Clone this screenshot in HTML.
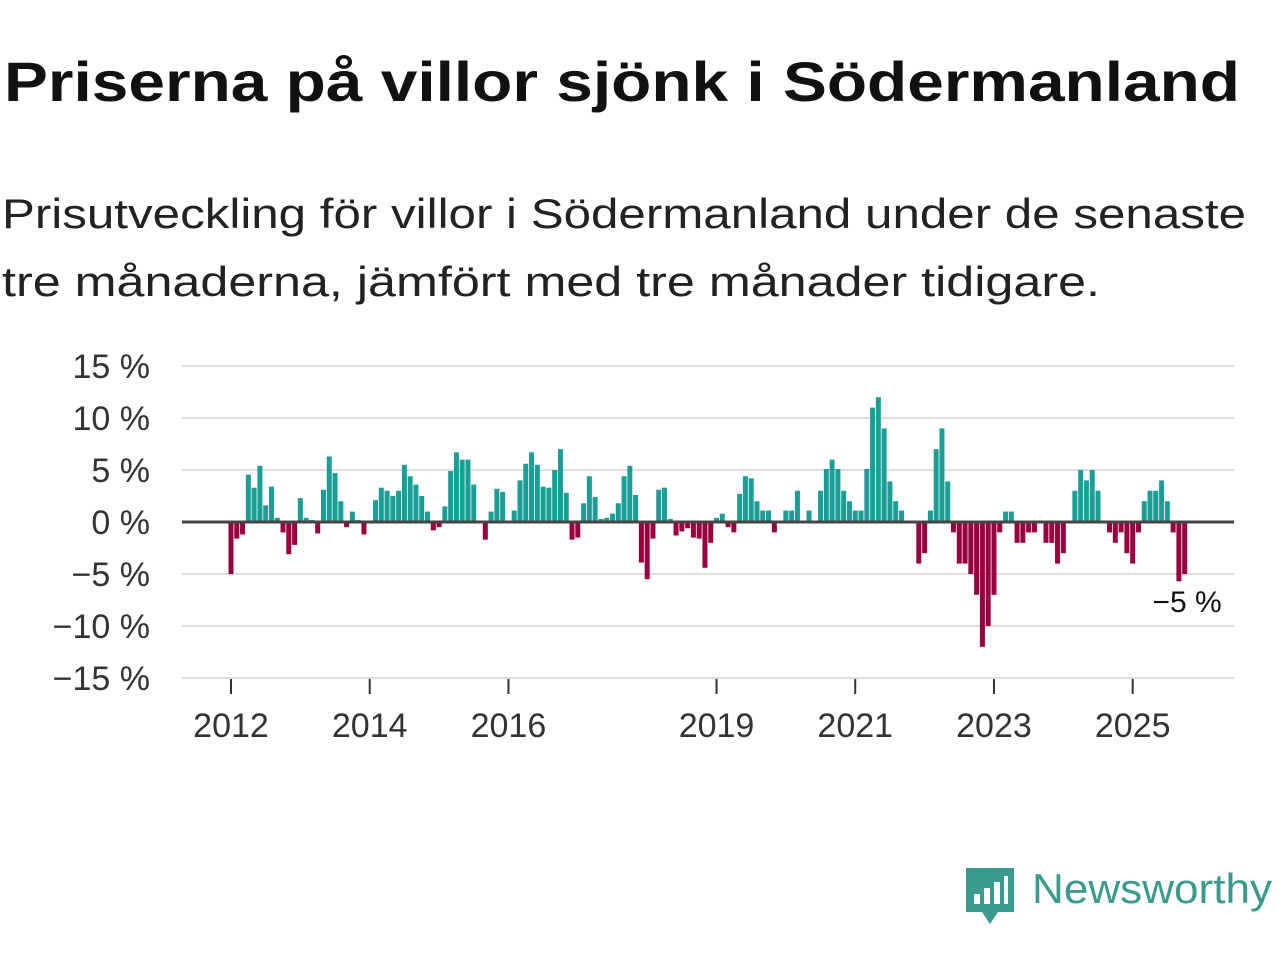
<!DOCTYPE html>
<html><head><meta charset="utf-8"><style>
body{margin:0;background:#fff;width:1280px;height:960px;overflow:hidden;font-family:"Liberation Sans","DejaVu Sans",sans-serif;}
svg{position:absolute;left:0;top:0;}
</style></head><body>
<svg width="1280" height="960">
<text x="4" y="101" font-size="56" font-weight="bold" fill="#111" textLength="1236" lengthAdjust="spacingAndGlyphs" font-family="Liberation Sans, sans-serif">Priserna på villor sjönk i Södermanland</text>
<text x="2" y="228" font-size="42" fill="#222" textLength="1244" lengthAdjust="spacingAndGlyphs" font-family="Liberation Sans, sans-serif">Prisutveckling för villor i Södermanland under de senaste</text>
<text x="2" y="296" font-size="42" fill="#222" textLength="1098" lengthAdjust="spacingAndGlyphs" font-family="Liberation Sans, sans-serif">tre månaderna, jämfört med tre månader tidigare.</text>
</svg>
<svg id="chart" width="1280" height="960"></svg>
<svg width="1280" height="960" style="pointer-events:none">
<path d="M966 868 h48 v44 h-16 l-8 12 l-8 -12 h-16 z" fill="#3a9a8e"/>
<rect x="974" y="894" width="6" height="10" fill="#fff"/><rect x="984" y="888" width="6" height="16" fill="#fff"/><rect x="994" y="882" width="6" height="22" fill="#fff"/><rect x="1004" y="876" width="4" height="28" fill="#fff"/>
<text x="1032" y="903" font-size="42" fill="#3a9a8e" textLength="1240" lengthAdjust="spacingAndGlyphs" font-family="Liberation Sans, sans-serif" id="logotext">Newsworthy</text>
</svg>
<script>
document.getElementById('logotext').setAttribute('textLength','240');
const yTicks=[15,10,5,0,-5,-10,-15];
const yTickLabels=["15 %","10 %","5 %","0 %","\u22125 %","\u221210 %","\u221215 %"];
const xTickYears=[2012,2014,2016,2019,2021,2023,2025];
const startYear=2012;
const values=[
-5.0,-1.6,-1.2,4.55,3.3,5.4,1.6,3.4,0.4,-1.0,-3.1,-2.2,2.3,0.4,0.2,-1.1,3.1,6.3,4.7,2.0,-0.5,1.0,0.2,-1.2,0,2.1,3.3,3.0,2.5,3.0,5.5,4.4,3.6,2.5,1.0,-0.8,-0.5,1.5,4.9,6.7,6.0,6.0,3.6,
0,-1.7,1.0,3.2,2.9,0,1.1,4.0,5.6,6.7,5.5,3.4,3.3,5.0,7.0,2.8,-1.7,-1.5,1.8,4.4,2.4,0.3,0.4,0.8,1.8,4.4,5.4,2.6,-3.9,-5.5,-1.6,3.1,3.3,0.3,-1.3,-0.9,-0.6,-1.5,-1.6,-4.4,-2.0,0.4,0.8,-0.5,
-1.0,2.7,4.4,4.2,2.0,1.1,1.1,-1.0,0,1.1,1.1,3.0,0,1.1,0,3.0,5.1,6.0,5.1,3.0,2.0,1.1,1.1,5.1,11.0,12.0,9.0,3.9,2.0,1.1,0,0,-4.0,-3.0,1.1,7.0,9.0,3.9,-1.0,-4.0,-4.0,-5.0,-7.0,
-12,-10,-7,-1,1,1,-2,-2,-1,-1,0,-2,-2,-4,-3,0,3,5,4,5,3,0,-1,-2,-1,-3,-4,-1,2,3,3,4,2,-1,-5.7,-5];
const lastLabel="\u22125 %";

const NS="http://www.w3.org/2000/svg";
const svg=document.getElementById('chart');
const X0=231, MW=5.78, Y0=522, PPU=10.4;
const x=i=>X0+i*MW;
const y=v=>Y0-v*PPU;
function mk(t,a){const e=document.createElementNS(NS,t);for(const k in a)e.setAttribute(k,a[k]);svg.appendChild(e);return e;}
yTicks.forEach((t,k)=>{
  if(t!==0){const g=mk('line',{x1:182,x2:1234,y1:y(t),y2:y(t),stroke:'#ddd','stroke-width':2});
  
  }
  const l=mk('text',{x:150,y:y(t)+12,'text-anchor':'end','font-size':34,fill:'#333'});
  l.textContent=yTickLabels[k];
  
  
});
values.forEach((v,i)=>{
  const r=mk('rect',{x:x(i)-2.5,width:5,y:Math.min(y(v),Y0),height:Math.abs(v*PPU),fill:v>=0?'#1a9e96':'#990040'});
  
  
});
const z=mk('line',{x1:182,x2:1234,y1:Y0,y2:Y0,stroke:'#444','stroke-width':3});


xTickYears.forEach(yr=>{
  const xi=x((yr-startYear)*12);
  const t=mk('line',{x1:xi,x2:xi,y1:679,y2:694,stroke:'#333','stroke-width':2});
  
  
  const l=mk('text',{x:xi,y:737,'text-anchor':'middle','font-size':34,fill:'#333'});
  l.textContent=yr;
  
  
});
const lastI=values.length-1;
const lab=mk('text',{x:x(lastI)+37,y:y(values[lastI])+38,'text-anchor':'end','font-size':30,fill:'#111'});
lab.textContent=lastLabel;


</script>
</body></html>
